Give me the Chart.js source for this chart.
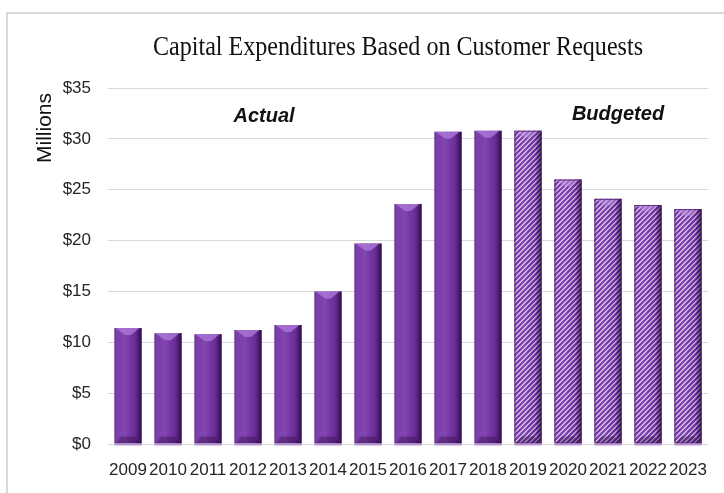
<!DOCTYPE html>
<html>
<head>
<meta charset="utf-8">
<script src="https://cdn.jsdelivr.net/npm/chart.js@4/dist/chart.umd.min.js"></script>
<style>
  html, body { margin: 0; padding: 0; background: #fff; }
  #wrap { width: 724px; height: 493px; }
</style>
</head>
<body>
<div id="wrap"><canvas id="capexChart" width="724" height="493"></canvas></div>
<script>
// data ($ millions)
const years = ['2009', '2010', '2011', '2012', '2013', '2014', '2015', '2016',
  '2017', '2018', '2019', '2020', '2021', '2022', '2023'];
const capex = [11.4, 10.9, 10.8, 11.2, 11.7, 15.0, 19.7, 23.6,
  30.7, 30.8, 30.8, 26.0, 24.1, 23.5, 23.1];
const firstBudgetYear = '2019';
const yMin = 0, yMax = 35, yStep = 5;

const titleText = 'Capital Expenditures Based on Customer Requests';
const axisTitle = 'Millions';

const budgetStart = years.indexOf(firstBudgetYear);
const purple = '#7431a6';

// diagonal hatch for the budgeted years
function hatchPattern() {
  const s = 5;
  const c = document.createElement('canvas');
  c.width = s; c.height = s;
  const g = c.getContext('2d');
  g.fillStyle = '#f1e9f7';
  g.fillRect(0, 0, s, s);
  g.strokeStyle = '#7532aa';
  g.lineWidth = 2.6;
  g.beginPath();
  g.moveTo(-1, s + 1); g.lineTo(s + 1, -1);
  g.moveTo(-1, 1); g.lineTo(1, -1);
  g.moveTo(s - 1, s + 1); g.lineTo(s + 1, s - 1);
  g.stroke();
  return g.createPattern(c, 'repeat');
}
const hatch = hatchPattern();

// border, title and the "Actual" / "Budgeted" notes
const frame = {
  id: 'frame',
  beforeDraw(chart) {
    const ctx = chart.ctx;
    ctx.save();
    ctx.fillStyle = '#fff';
    ctx.fillRect(0, 0, chart.width, chart.height);
    ctx.strokeStyle = '#d9d9d9';
    ctx.lineWidth = 2;
    ctx.beginPath();
    ctx.moveTo(7, chart.height);
    ctx.lineTo(7, 13);
    ctx.lineTo(chart.width, 13);
    ctx.stroke();
    ctx.restore();
  },
  afterDraw(chart) {
    const ctx = chart.ctx;
    const { x, y } = chart.scales;
    ctx.save();
    ctx.fillStyle = '#111';
    ctx.font = '27px "Liberation Serif", "Times New Roman", serif';
    ctx.textAlign = 'center';
    ctx.textBaseline = 'alphabetic';
    ctx.fillText(titleText, 398, 55, 490);

    ctx.font = 'bold italic 20px "Liberation Sans", Arial, sans-serif';
    ctx.textBaseline = 'middle';
    ctx.fillText('Actual', x.getPixelForValue(3.4), y.getPixelForValue(32.2));
    ctx.fillText('Budgeted', x.getPixelForValue(12.25), y.getPixelForValue(32.4));

    ctx.translate(45, 128);
    ctx.rotate(-Math.PI / 2);
    ctx.font = '21px "Liberation Sans", Arial, sans-serif';
    ctx.fillStyle = '#111';
    ctx.fillText(axisTitle, 0, 0);
    ctx.restore();
  }
};

// bevel shading on each bar
const bevel = {
  id: 'bevel',
  afterDatasetsDraw(chart) {
    const ctx = chart.ctx;
    const meta = chart.getDatasetMeta(0);
    meta.data.forEach((bar, i) => {
      const p = bar.getProps(['x', 'y', 'base', 'width'], true);
      const x0 = p.x - p.width / 2, x1 = p.x + p.width / 2;
      const top = p.y, base = p.base;
      const budget = i >= budgetStart;
      ctx.save();
      const grad = ctx.createLinearGradient(x0, 0, x1, 0);
      grad.addColorStop(0, 'rgba(40,10,60,0.25)');
      grad.addColorStop(0.12, 'rgba(255,255,255,0.06)');
      grad.addColorStop(0.4, 'rgba(255,255,255,0.10)');
      grad.addColorStop(0.75, 'rgba(0,0,0,0.05)');
      grad.addColorStop(0.9, 'rgba(20,0,35,0.45)');
      grad.addColorStop(1, 'rgba(20,0,35,0.75)');
      ctx.fillStyle = grad;
      ctx.fillRect(x0, top, x1 - x0, base - top);

      const b = Math.min(7, (base - top) / 3);
      ctx.fillStyle = budget ? 'rgba(190,150,225,0.55)' : 'rgba(170,120,215,0.8)';
      ctx.beginPath();
      ctx.moveTo(x0 + 1, top);
      ctx.lineTo(x1 - 2, top);
      ctx.lineTo(p.x + b * 0.4, top + b);
      ctx.lineTo(p.x - b * 0.4, top + b);
      ctx.closePath();
      ctx.fill();

      ctx.fillStyle = 'rgba(20,0,35,0.3)';
      ctx.beginPath();
      ctx.moveTo(x0 + 1, base);
      ctx.lineTo(x1 - 1, base);
      ctx.lineTo(x1 - b, base - b);
      ctx.lineTo(x0 + b, base - b);
      ctx.closePath();
      ctx.fill();

      if (budget) {
        ctx.strokeStyle = 'rgba(80,25,110,0.8)';
        ctx.lineWidth = 1;
        ctx.strokeRect(x0 + 0.5, top + 0.5, x1 - x0 - 1, base - top - 1);
      }
      ctx.fillStyle = '#b896d6';
      ctx.fillRect(x0, base, x1 - x0, 2);
      ctx.restore();
    });
  }
};

const tickFont = { family: '"Liberation Sans", Arial, sans-serif', size: 17 };

new Chart(document.getElementById('capexChart'), {
  type: 'bar',
  data: {
    labels: years,
    datasets: [{
      data: capex,
      backgroundColor: years.map((y, i) => i >= budgetStart ? hatch : purple),
      borderWidth: 0,
      barPercentage: 0.68,
      categoryPercentage: 1
    }]
  },
  options: {
    responsive: false,
    animation: false,
    layout: { padding: { left: 0, right: 16, top: 88, bottom: 9 } },
    plugins: {
      legend: { display: false },
      tooltip: { enabled: false }
    },
    scales: {
      x: {
        grid: { display: false, drawTicks: false },
        border: { display: false },
        ticks: { font: tickFont, color: '#262626', padding: 16, maxRotation: 0, autoSkip: false },
        afterFit(scale) { scale.height = 40; }
      },
      y: {
        min: yMin,
        max: yMax,
        grid: { color: '#d9d9d9', lineWidth: 1, drawTicks: false },
        border: { display: false },
        ticks: {
          stepSize: yStep,
          font: tickFont,
          color: '#262626',
          padding: 17,
          callback: v => '$' + v
        },
        afterFit(scale) { scale.width = 108; }
      }
    }
  },
  plugins: [frame, bevel]
});
</script>
</body>
</html>
